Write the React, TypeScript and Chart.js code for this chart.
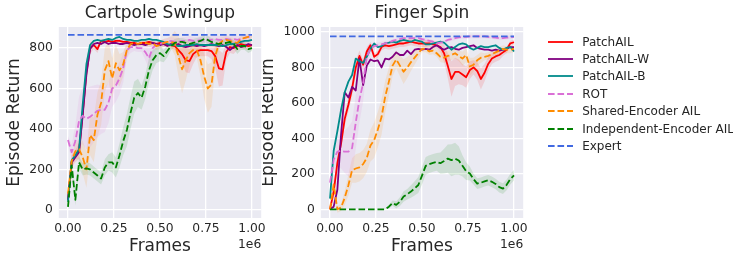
import React, { useEffect, useRef } from "react";
import { Chart, registerables } from "chart.js";

Chart.register(...registerables);

// ---------------- data ----------------
const frames = [
  0.0, 0.02, 0.04, 0.06, 0.08, 0.1, 0.12, 0.14, 0.16, 0.18,
  0.2, 0.22, 0.24, 0.26, 0.28, 0.3, 0.32, 0.34, 0.36, 0.38,
  0.4, 0.42, 0.44, 0.46, 0.48, 0.5, 0.52, 0.54, 0.56, 0.58,
  0.6, 0.62, 0.64, 0.66, 0.68, 0.7, 0.72, 0.74, 0.76, 0.78,
  0.8, 0.82, 0.84, 0.86, 0.88, 0.9, 0.92, 0.94, 0.96, 0.98,
  1.0,
];
const xTickValues = [0, 0.25, 0.5, 0.75, 1.0];
const cartpoleYTicks = [0, 200, 400, 600, 800];
const fingerYTicks = [0, 200, 400, 600, 800, 1000];

const seriesLabels = [
  "PatchAIL",
  "PatchAIL-W",
  "PatchAIL-B",
  "ROT",
  "Shared-Encoder AIL",
  "Independent-Encoder AIL",
  "Expert",
];
const seriesColors = ["#ff0000", "#800080", "#008b8b", "#da70d6", "#ff8c00", "#008000", "#4169e1"];
const seriesDashed = [false, false, false, true, true, true, true];

// Cartpole Swingup
const cpPatchAIL = [
  50, 240, 265, 290, 480, 680, 800, 815, 795, 835,
  830, 835, 830, 835, 835, 830, 830, 825, 825, 820,
  825, 825, 830, 825, 820, 825, 820, 815, 815, 810,
  790, 770, 740, 735, 770, 785, 790, 790, 790, 785,
  760, 700, 695, 780, 805, 800, 810, 820, 815, 810,
  815,
];
const cpPatchAILW = [
  50, 235, 260, 285, 470, 670, 795, 820, 825, 820,
  830, 820, 825, 825, 820, 820, 825, 820, 815, 820,
  820, 815, 820, 825, 820, 815, 820, 810, 820, 815,
  820, 810, 805, 810, 815, 810, 815, 810, 815, 820,
  815, 810, 815, 805, 790, 805, 815, 805, 810, 820,
  815,
];
const cpPatchAILB = [
  40, 245, 270, 300, 520, 720, 815, 835, 840, 835,
  840, 845, 840, 850, 855, 845, 840, 840, 835, 835,
  840, 840, 845, 840, 840, 835, 830, 820, 815, 815,
  810, 810, 815, 815, 815, 820, 815, 815, 815, 815,
  815, 815, 810, 815, 820, 820, 825, 830, 835, 835,
  840,
];
const cpROT = [
  345, 285, 340, 440, 465, 450, 460, 475, 490, 495,
  495, 530, 600, 615, 650, 700, 790, 805, 805, 800,
  800, 780, 750, 800, 815, 820, 825, 830, 835, 830,
  830, 835, 835, 840, 835, 835, 840, 835, 840, 840,
  845, 840, 840, 845, 840, 845, 840, 845, 850, 855,
  855,
];
const cpShared = [
  80, 240, 290, 300, 260, 200, 370, 345, 470, 530,
  690, 735, 650, 725, 690, 720, 790, 820, 825, 820,
  825, 825, 820, 825, 810, 815, 825, 830, 830, 825,
  760, 695, 740, 775, 790, 790, 740, 660, 600, 620,
  760, 820, 835, 840, 835, 830, 825, 845, 850, 855,
  855,
];
const cpIndep = [
  15, 220, 50, 235, 200, 205, 200, 185, 170, 155,
  210, 235, 235, 210, 270, 340, 395, 480, 555, 578,
  555, 610, 690, 740, 765, 775, 760, 785, 810, 825,
  830, 830, 825, 820, 825, 830, 835, 845, 840, 830,
  825, 820, 825, 825, 830, 820, 795, 810, 810, 795,
  800,
];
const cpExpert = 865;

const cpSpreadPatchAIL = [
  15, 30, 30, 40, 60, 60, 30, 20, 20, 10,
  10, 10, 10, 10, 10, 10, 10, 10, 10, 10,
  10, 10, 10, 10, 10, 10, 10, 10, 15, 20,
  30, 40, 60, 60, 50, 30, 30, 30, 30, 40,
  60, 90, 80, 40, 30, 30, 20, 20, 20, 20,
  20,
];
const cpSpreadROT = [
  20, 40, 80, 120, 140, 150, 150, 140, 130, 120,
  110, 100, 90, 80, 80, 70, 40, 30, 20, 20,
  20, 40, 50, 30, 20, 20, 20, 20, 20, 20,
  20, 20, 20, 20, 20, 20, 20, 20, 20, 20,
  20, 20, 20, 20, 20, 20, 20, 15, 15, 15,
  15,
];
const cpSpreadShared = [
  20, 30, 40, 50, 80, 90, 100, 110, 110, 110,
  110, 100, 100, 90, 80, 60, 40, 20, 15, 15,
  15, 15, 15, 15, 20, 20, 20, 20, 30, 60,
  100, 120, 100, 60, 30, 40, 80, 110, 120, 110,
  60, 30, 20, 20, 20, 20, 20, 15, 15, 15,
  15,
];
const cpSpreadIndep = [
  10, 30, 30, 30, 30, 30, 30, 30, 30, 30,
  40, 40, 50, 50, 60, 70, 80, 80, 80, 70,
  60, 60, 60, 50, 40, 40, 30, 30, 20, 20,
  20, 20, 20, 20, 20, 20, 20, 20, 20, 20,
  20, 20, 20, 20, 20, 20, 25, 20, 20, 20,
  15,
];

// Finger Spin
const fsPatchAIL = [
  0, 100, 260, 370, 510, 590, 680, 800, 865, 815,
  890, 925, 860, 875, 915, 925, 920, 925, 930, 935,
  935, 940, 945, 940, 935, 935, 935, 935, 930, 925,
  915, 880, 810, 735, 775, 775, 760, 745, 785, 800,
  780, 735, 770, 820, 850, 862, 870, 885, 900, 936,
  942,
];
const fsPatchAILW = [
  0, 15, 110, 420, 660, 630, 690, 670, 850, 700,
  810, 845, 835, 840, 800, 850, 845, 860, 885, 870,
  870, 895, 875, 900, 905, 900, 905, 900, 915, 925,
  910, 900, 910, 915, 905, 900, 910, 915, 920, 925,
  910, 905, 900, 900, 895, 900, 895, 900, 905, 915,
  915,
];
const fsPatchAILB = [
  60, 330, 440, 560, 660, 720, 757, 850, 835, 825,
  860, 905, 935, 915, 920, 936, 940, 945, 940, 950,
  955, 950, 945, 955, 950, 945, 930, 930, 935, 940,
  945, 940, 920, 900, 915, 930, 935, 930, 910, 900,
  910, 920, 915, 915, 920, 925, 910, 900, 910, 915,
  890,
];
const fsROT = [
  150, 280, 325, 330, 325, 325, 345, 490, 620, 710,
  860, 905, 920, 925, 930, 935, 940, 950, 955, 960,
  965, 965, 965, 965, 965, 960, 955, 950, 945, 935,
  940, 945, 955, 960, 965, 970, 972, 972, 975, 975,
  975, 975, 975, 972, 970, 968, 965, 965, 968, 970,
  972,
];
const fsShared = [
  0, 140, 0, 10, 65, 136, 220, 230, 237, 255,
  290, 360, 390, 450, 520, 635, 720, 810, 845, 810,
  776, 800, 830, 855, 880, 905, 905, 890, 895, 880,
  860, 855, 865, 870, 880, 865, 850, 870, 805, 815,
  840, 855, 860, 865, 875, 885, 895, 905, 900, 900,
  905,
];
const fsIndep = [
  0, 0, 0, 0, 0, 0, 0, 0, 0, 0,
  0, 0, 0, 0, 0, 0, 15, 35, 25, 43,
  72, 85, 100, 118, 137, 190, 245, 255, 262, 267,
  260, 272, 286, 277, 285, 275, 245, 215, 202, 170,
  145, 150, 158, 164, 155, 143, 125, 117, 138, 170,
  192,
];
const fsExpert = 975;

const fsSpreadPatchAIL = [
  0, 30, 40, 40, 40, 40, 40, 40, 30, 30,
  20, 20, 20, 20, 20, 20, 20, 20, 20, 20,
  20, 20, 20, 20, 20, 20, 20, 20, 20, 20,
  30, 50, 70, 100, 80, 70, 60, 60, 50, 40,
  50, 60, 50, 40, 30, 30, 30, 20, 20, 15,
  15,
];
const fsSpreadROT = [
  50, 60, 80, 100, 120, 140, 150, 150, 130, 100,
  60, 30, 20, 15, 15, 15, 10, 10, 10, 10,
  10, 10, 10, 10, 10, 10, 10, 10, 10, 10,
  10, 10, 10, 10, 10, 10, 10, 10, 10, 10,
  10, 10, 10, 10, 10, 10, 10, 10, 10, 10,
  10,
];
const fsSpreadShared = [
  10, 40, 20, 20, 40, 60, 70, 80, 80, 80,
  80, 90, 100, 100, 100, 90, 80, 60, 50, 60,
  70, 60, 50, 40, 30, 20, 20, 20, 20, 20,
  30, 30, 30, 30, 30, 30, 40, 40, 50, 40,
  30, 30, 20, 20, 20, 20, 20, 20, 20, 20,
  20,
];
const fsSpreadIndep = [
  0, 0, 0, 0, 0, 0, 0, 0, 0, 0,
  0, 0, 0, 0, 0, 0, 10, 15, 20, 25,
  30, 30, 35, 40, 45, 50, 50, 50, 50, 50,
  60, 70, 80, 90, 90, 80, 60, 50, 40, 30,
  30, 30, 30, 30, 30, 30, 30, 30, 30, 30,
  30,
];

// ---------------- styling ----------------
const FONT = '"DejaVu Sans", "Liberation Sans", sans-serif';
const TEXT = "#262626";
const BG = "#eaeaf2";

function withAlpha(hex: string, a: number) {
  const n = parseInt(hex.slice(1), 16);
  return `rgba(${(n >> 16) & 255},${(n >> 8) & 255},${n & 255},${a})`;
}

type Panel = {
  title: string;
  values: number[][];
  spreads: (number[] | null)[];
  expert: number;
  yMin: number;
  yMax: number;
  yTicks: number[];
  yTitlePad: number;
};

const cartpole: Panel = {
  title: "Cartpole Swingup",
  values: [cpPatchAIL, cpPatchAILW, cpPatchAILB, cpROT, cpShared, cpIndep],
  spreads: [cpSpreadPatchAIL, null, null, cpSpreadROT, cpSpreadShared, cpSpreadIndep],
  expert: cpExpert,
  yMin: -40,
  yMax: 904,
  yTicks: cartpoleYTicks,
  yTitlePad: 4.4,
};

const finger: Panel = {
  title: "Finger Spin",
  values: [fsPatchAIL, fsPatchAILW, fsPatchAILB, fsROT, fsShared, fsIndep],
  spreads: [fsSpreadPatchAIL, null, null, fsSpreadROT, fsSpreadShared, fsSpreadIndep],
  expert: fsExpert,
  yMin: -49,
  yMax: 1028,
  yTicks: fingerYTicks,
  yTitlePad: -3.6,
};

const CANVAS_W = 280;
const CANVAS_H = 253;
const AXIS_LEFT = 58.8;
const AXIS_RIGHT = 261.2;
const AXIS_BOTTOM = 218;
const LW = 1.8;
const DASH = [6.6, 2.9];

const bgPlugin = {
  id: "axesBg",
  beforeDraw(chart: any) {
    const { ctx, chartArea: a } = chart;
    ctx.save();
    ctx.fillStyle = BG;
    ctx.fillRect(a.left, a.top, a.right - a.left, a.bottom - a.top);
    ctx.restore();
  },
};

const exponentPlugin = {
  id: "exponent",
  afterDraw(chart: any) {
    const { ctx, chartArea: a } = chart;
    ctx.save();
    ctx.font = `12.3px ${FONT}`;
    ctx.fillStyle = TEXT;
    ctx.textAlign = "right";
    ctx.textBaseline = "alphabetic";
    ctx.fillText("1e6", a.right, 248.3);
    ctx.restore();
  },
};

function makeConfig(p: Panel): any {
  const datasets: any[] = [];
  p.spreads.forEach((sp, i) => {
    if (!sp) return;
    const v = p.values[i];
    datasets.push({
      data: frames.map((x, k) => ({ x, y: v[k] + sp[k] })),
      borderColor: "rgba(0,0,0,0)",
      borderWidth: 0,
      pointRadius: 0,
      fill: false,
      order: 200,
    });
    datasets.push({
      data: frames.map((x, k) => ({ x, y: v[k] - sp[k] })),
      borderColor: "rgba(0,0,0,0)",
      borderWidth: 0,
      pointRadius: 0,
      fill: "-1",
      backgroundColor: withAlpha(seriesColors[i], 0.12),
      order: 200,
    });
  });
  p.values.forEach((v, i) => {
    datasets.push({
      label: seriesLabels[i],
      data: frames.map((x, k) => ({ x, y: v[k] })),
      borderColor: seriesColors[i],
      borderWidth: LW,
      borderDash: seriesDashed[i] ? DASH : [],
      borderJoinStyle: "round",
      pointRadius: 0,
      fill: false,
      tension: 0,
      order: 100 - i,
    });
  });
  datasets.push({
    label: seriesLabels[6],
    data: [
      { x: frames[0], y: p.expert },
      { x: frames[frames.length - 1], y: p.expert },
    ],
    borderColor: seriesColors[6],
    borderWidth: LW,
    borderDash: DASH,
    pointRadius: 0,
    fill: false,
    order: 90,
  });

  const grid = { color: "#ffffff", lineWidth: 1.3, drawTicks: false };
  return {
    type: "line",
    data: { datasets },
    plugins: [bgPlugin, exponentPlugin],
    options: {
      animation: false,
      responsive: false,
      devicePixelRatio: 1,
      events: [],
      layout: { padding: { left: 0, right: CANVAS_W - AXIS_RIGHT, top: 0, bottom: 0 } },
      plugins: {
        legend: { display: false },
        tooltip: { enabled: false },
        filler: { drawTime: "beforeDatasetsDraw" },
        title: {
          display: true,
          text: p.title,
          fullSize: false,
          color: TEXT,
          font: { family: FONT, size: 17, weight: "normal", lineHeight: 1.2 },
          padding: { top: 2.9, bottom: 3.7 },
        },
      },
      scales: {
        x: {
          type: "linear",
          min: -0.05,
          max: 1.05,
          afterBuildTicks: (s: any) => {
            s.ticks = xTickValues.map((value) => ({ value }));
          },
          afterFit: (s: any) => {
            s.height = CANVAS_H - AXIS_BOTTOM;
          },
          ticks: {
            autoSkip: false,
            maxRotation: 0,
            minRotation: 0,
            padding: 3.8,
            color: TEXT,
            font: { family: FONT, size: 12.3 },
            callback: (v: any) => Number(v).toFixed(2),
          },
          grid,
          border: { display: false },
          title: {
            display: true,
            text: "Frames",
            color: TEXT,
            font: { family: FONT, size: 17, lineHeight: 1.2 },
            padding: { top: 0, bottom: -3.7 },
          },
        },
        y: {
          type: "linear",
          min: p.yMin,
          max: p.yMax,
          afterBuildTicks: (s: any) => {
            s.ticks = p.yTicks.map((value) => ({ value }));
          },
          afterFit: (s: any) => {
            s.width = AXIS_LEFT;
          },
          ticks: {
            padding: 6,
            color: TEXT,
            font: { family: FONT, size: 12.3 },
            callback: (v: any) => String(v),
          },
          grid,
          border: { display: false },
          title: {
            display: true,
            text: "Episode Return",
            color: TEXT,
            font: { family: FONT, size: 17, lineHeight: 1.2 },
            padding: { top: p.yTitlePad, bottom: 0 },
          },
        },
      },
    },
  };
}

function PanelChart({ panel, left }: { panel: Panel; left: number }) {
  const ref = useRef<HTMLCanvasElement | null>(null);
  useEffect(() => {
    if (!ref.current) return;
    const chart = new Chart(ref.current, makeConfig(panel));
    return () => chart.destroy();
  }, [panel]);
  return (
    <canvas
      ref={ref}
      width={CANVAS_W}
      height={CANVAS_H}
      style={{ position: "absolute", left, top: 0, width: CANVAS_W, height: CANVAS_H }}
    />
  );
}

function Legend() {
  return (
    <div style={{ position: "absolute", left: 548, top: 0, width: 185, height: 253 }}>
      {seriesLabels.map((label, i) => (
        <div
          key={label}
          style={{
            position: "absolute",
            left: 0,
            top: 41.7 + i * 17.38 - 8,
            height: 16,
            display: "flex",
            alignItems: "center",
            whiteSpace: "nowrap",
          }}
        >
          <svg width={25} height={4} style={{ display: "block" }}>
            <line
              x1={0}
              y1={2}
              x2={25}
              y2={2}
              stroke={seriesColors[i]}
              strokeWidth={LW}
              strokeDasharray={seriesDashed[i] ? DASH.join(" ") : undefined}
            />
          </svg>
          <span
            style={{
              marginLeft: 9.2,
              fontFamily: FONT,
              fontSize: 12,
              color: TEXT,
              lineHeight: "16px",
            }}
          >
            {label}
          </span>
        </div>
      ))}
    </div>
  );
}

export default function App() {
  return (
    <div
      style={{
        position: "absolute",
        left: 0,
        top: 0,
        width: 733,
        height: 253,
        overflow: "hidden",
        background: "#ffffff",
      }}
    >
      <PanelChart panel={cartpole} left={0} />
      <PanelChart panel={finger} left={262} />
      <Legend />
    </div>
  );
}
